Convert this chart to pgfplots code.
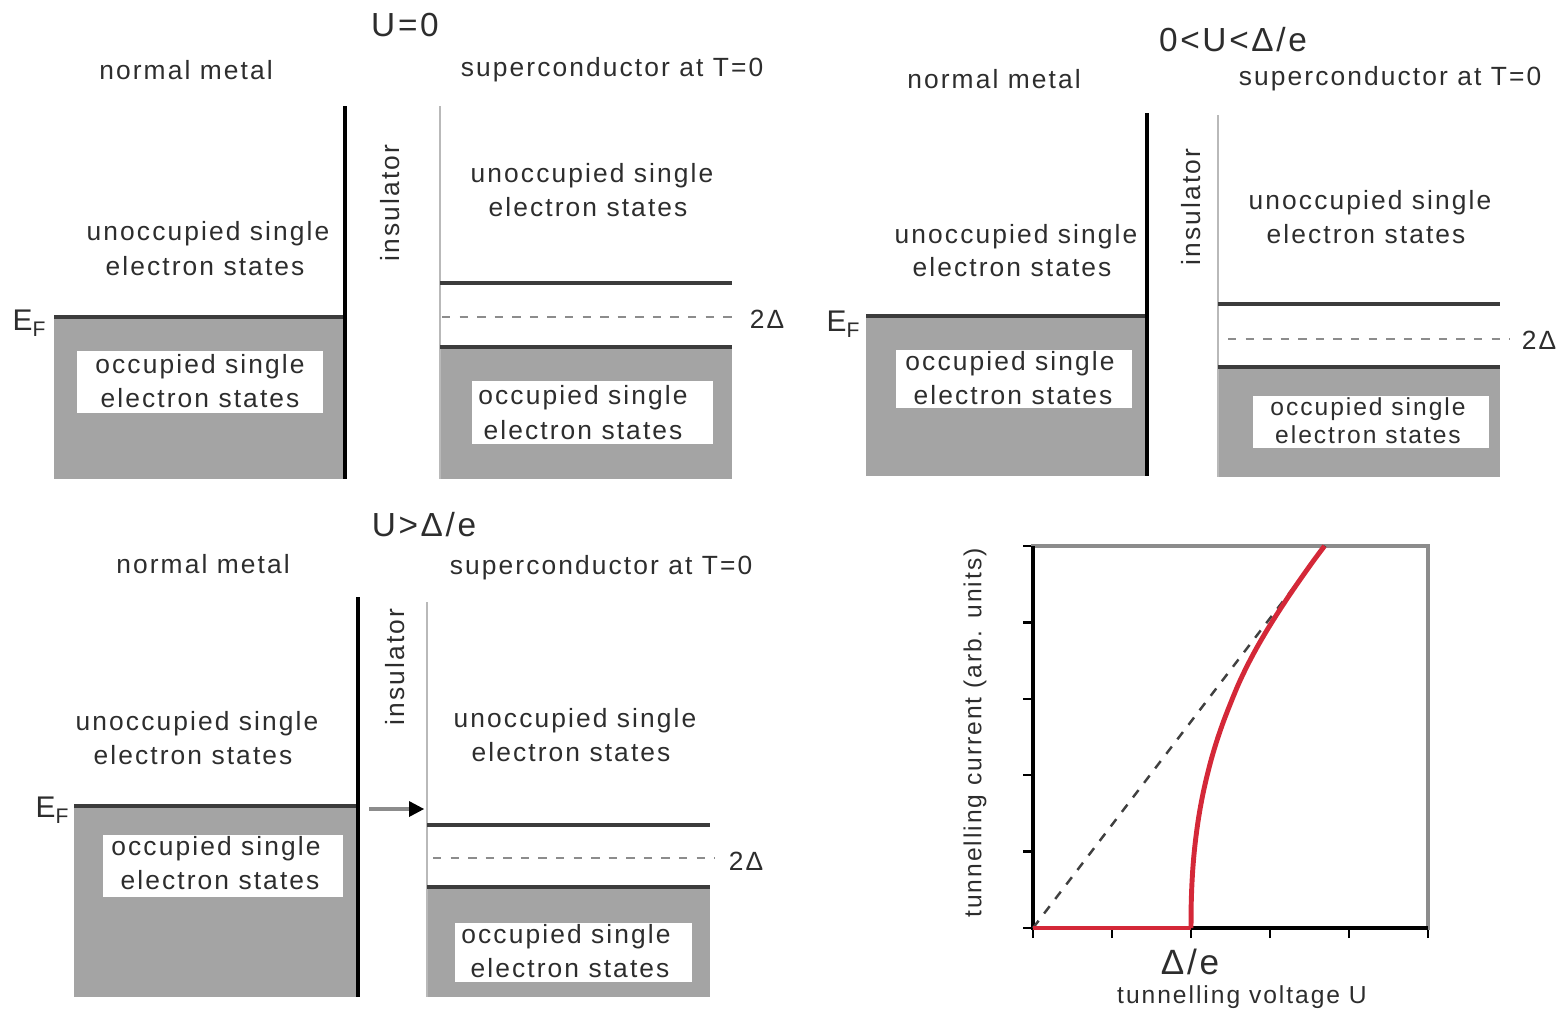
\documentclass[border=0pt]{standalone}
\usepackage{fontspec}
\setmainfont{Liberation Sans}[LetterSpace=8]
\usepackage{pgfplots}
\pgfplotsset{compat=1.18}
\definecolor{fillgray}{RGB}{164,164,164}
\definecolor{linegray}{RGB}{60,60,60}
\definecolor{scgray}{RGB}{185,185,185}
\definecolor{dashgray}{RGB}{140,140,140}
\definecolor{txt}{RGB}{45,45,45}
\definecolor{curvered}{RGB}{212,40,56}
\newcommand\bodyfont{\fontsize{7.5}{9}\selectfont}
\newcommand\titlefont{\fontsize{9.5}{11}\selectfont}
\newcommand\EF{E\raisebox{-0.4ex}{\fontsize{6}{7}\selectfont F}}
\tikzset{txt/.style={text=txt, font=\bodyfont, inner sep=0pt},
  ttl/.style={text=txt, font=\titlefont, inner sep=0pt}}
\begin{document}
\begin{tikzpicture}
\begin{axis}[at={(0,0)}, anchor=south west, scale only axis,
  width=15.59cm, height=10.10cm,
  xmin=0, xmax=1559, ymin=0, ymax=1010, y dir=reverse,
  hide axis, clip=false]

% ---------- fills ----------
\addplot[fill=fillgray, draw=none] coordinates {(54,317)(345,317)(345,479)(54,479)} -- cycle;
\addplot[fill=fillgray, draw=none] coordinates {(440,347)(732,347)(732,479)(440,479)} -- cycle;
\addplot[fill=fillgray, draw=none] coordinates {(866,314)(1147,314)(1147,476)(866,476)} -- cycle;
\addplot[fill=fillgray, draw=none] coordinates {(1218,367)(1500,367)(1500,477)(1218,477)} -- cycle;
\addplot[fill=fillgray, draw=none] coordinates {(74,805)(358,805)(358,997)(74,997)} -- cycle;
\addplot[fill=fillgray, draw=none] coordinates {(427,887)(710,887)(710,997)(427,997)} -- cycle;
% white boxes
\addplot[fill=white, draw=none] coordinates {(77,351)(323,351)(323,413)(77,413)} -- cycle;
\addplot[fill=white, draw=none] coordinates {(472,381)(713,381)(713,444)(472,444)} -- cycle;
\addplot[fill=white, draw=none] coordinates {(896,350)(1132,350)(1132,408)(896,408)} -- cycle;
\addplot[fill=white, draw=none] coordinates {(1253,396)(1489,396)(1489,448)(1253,448)} -- cycle;
\addplot[fill=white, draw=none] coordinates {(103,835)(343,835)(343,897)(103,897)} -- cycle;
\addplot[fill=white, draw=none] coordinates {(455,923)(692,923)(692,982)(455,982)} -- cycle;

% ---------- lines panel 1 ----------
\addplot[linegray, line width=1.1pt] coordinates {(54,317)(345,317)};
\addplot[black, line width=0.9pt] coordinates {(345,106)(345,479)};
\addplot[scgray, line width=0.7pt] coordinates {(440,106)(440,479)};
\addplot[linegray, line width=0.9pt] coordinates {(440,283)(732,283)};
\addplot[dashgray, line width=0.6pt, dash pattern=on 2.4pt off 2.6pt] coordinates {(442,317)(737,317)};
\addplot[linegray, line width=1pt] coordinates {(440,347)(732,347)};
% ---------- lines panel 2 ----------
\addplot[linegray, line width=1.3pt] coordinates {(866,316)(1147,316)};
\addplot[black, line width=0.9pt] coordinates {(1147,113)(1147,476)};
\addplot[scgray, line width=0.7pt] coordinates {(1218,115)(1218,477)};
\addplot[linegray, line width=0.9pt] coordinates {(1218,304)(1500,304)};
\addplot[dashgray, line width=0.6pt, dash pattern=on 2.4pt off 2.6pt] coordinates {(1228,339)(1510,339)};
\addplot[linegray, line width=1pt] coordinates {(1218,367)(1500,367)};
% ---------- lines panel 3 ----------
\addplot[linegray, line width=1.3pt] coordinates {(74,806)(358,806)};
\addplot[black, line width=0.9pt] coordinates {(358,597)(358,997)};
\addplot[scgray, line width=0.7pt] coordinates {(427,602)(427,997)};
\addplot[linegray, line width=1pt] coordinates {(427,825)(710,825)};
\addplot[dashgray, line width=0.6pt, dash pattern=on 2.4pt off 2.6pt] coordinates {(433,858)(715,858)};
\addplot[linegray, line width=1pt] coordinates {(427,887)(710,887)};
% arrow
\addplot[black!45, line width=1.2pt] coordinates {(369,809)(412,809)};
\addplot[fill=black, draw=none] coordinates {(424,809)(409,801)(409,817)} -- cycle;

% ---------- texts panel 1 ----------
\node[ttl] at (axis cs:405,25) {U=0};
\node[txt] at (axis cs:186,70) {normal metal};
\node[txt] at (axis cs:612,70) {superconductor at T=0};
\node[txt] at (axis cs:208,234) {unoccupied single};
\node[txt] at (axis cs:205,266) {electron states};
\node[txt] at (axis cs:200,367) {occupied single};
\node[txt] at (axis cs:200,398) {electron states};
\node[txt] at (axis cs:592,176) {unoccupied single};
\node[txt] at (axis cs:588,207) {electron states};
\node[txt] at (axis cs:583,398) {occupied single};
\node[txt] at (axis cs:583,430) {electron states};
\node[txt, rotate=90] at (axis cs:390,203) {insulator};
\node[txt, font=\fontsize{8.5}{10}\selectfont] at (axis cs:29,323) {\EF};
\node[txt] at (axis cs:767,319) {2Δ};
% ---------- texts panel 2 ----------
\node[ttl] at (axis cs:1233,40) {0<U<Δ/e};
\node[txt] at (axis cs:994,79) {normal metal};
\node[txt] at (axis cs:1390,79) {superconductor at T=0};
\node[txt] at (axis cs:1016,237) {unoccupied single};
\node[txt] at (axis cs:1012,267) {electron states};
\node[txt] at (axis cs:1010,364) {occupied single};
\node[txt] at (axis cs:1013,395) {electron states};
\node[txt] at (axis cs:1370,203) {unoccupied single};
\node[txt] at (axis cs:1366,234) {electron states};
\node[txt, font=\fontsize{7}{8}\selectfont] at (axis cs:1368,409) {occupied single};
\node[txt, font=\fontsize{7}{8}\selectfont] at (axis cs:1368,435) {electron states};
\node[txt, rotate=90] at (axis cs:1191,207) {insulator};
\node[txt, font=\fontsize{8.5}{10}\selectfont] at (axis cs:843,324) {\EF};
\node[txt] at (axis cs:1539,340) {2Δ};
% ---------- texts panel 3 ----------
\node[ttl] at (axis cs:424,525) {U>Δ/e};
\node[txt] at (axis cs:203,564) {normal metal};
\node[txt] at (axis cs:601,568) {superconductor at T=0};
\node[txt] at (axis cs:197,724) {unoccupied single};
\node[txt] at (axis cs:193,755) {electron states};
\node[txt] at (axis cs:216,849) {occupied single};
\node[txt] at (axis cs:220,880) {electron states};
\node[txt] at (axis cs:575,721) {unoccupied single};
\node[txt] at (axis cs:571,752) {electron states};
\node[txt] at (axis cs:566,937) {occupied single};
\node[txt] at (axis cs:570,968) {electron states};
\node[txt, rotate=90] at (axis cs:395,667) {insulator};
\node[txt, font=\fontsize{8.5}{10}\selectfont] at (axis cs:52,810) {\EF};
\node[txt] at (axis cs:746,861) {2Δ};
% ---------- texts panel 4 ----------
\node[txt, font=\fontsize{7}{8}\selectfont, rotate=90] at (axis cs:975,733) {tunnelling current (arb. units)};
\node[txt, font=\fontsize{7}{8}\selectfont] at (axis cs:1242,997) {tunnelling voltage U};
\node[txt, font=\fontsize{10}{12}\selectfont] at (axis cs:1190,962) {Δ/e};
\end{axis}

\begin{axis}[at={(10.33cm,0.82cm)}, anchor=south west, scale only axis,
  width=3.95cm, height=3.82cm,
  xmin=0, xmax=5, ymin=0, ymax=5,
  xtick={0,1,2,3,4,5}, ytick={0,1,2,3,4,5},
  xticklabels={,,,,,}, yticklabels={,,,,,},
  tick align=outside, xtick pos=left, ytick pos=left,
  major tick length=1mm, tick style={black, line width=0.7pt},
  axis line style={draw=black!45, line width=1.1pt},
  clip=false]
\addplot[black, line width=1pt] coordinates {(0,5)(0,0)(5,0)};
\addplot[black!75, line width=0.7pt, dash pattern=on 2.6pt off 2.6pt] coordinates {(0,0)(3.7,5)};
\addplot[curvered, line width=1.4pt] coordinates {(0,0)(2,0)};
\addplot[curvered, line width=1.4pt, smooth, tension=0.5] coordinates {
(2,0)(2.002,0.27)(2.005,0.40)(2.01,0.54)(2.02,0.73)(2.035,0.93)(2.055,1.13)
(2.08,1.33)(2.11,1.53)(2.15,1.75)(2.2,1.98)(2.26,2.22)(2.33,2.46)(2.41,2.70)
(2.5,2.94)(2.6,3.19)(2.71,3.43)(2.83,3.664)(2.96,3.895)(3.1,4.127)(3.25,4.363)
(3.4,4.588)(3.55,4.806)(3.69,5.0)};
\end{axis}
\pgfresetboundingbox
\path (0,0) rectangle (15.59cm,10.10cm);
\end{tikzpicture}
\end{document}
